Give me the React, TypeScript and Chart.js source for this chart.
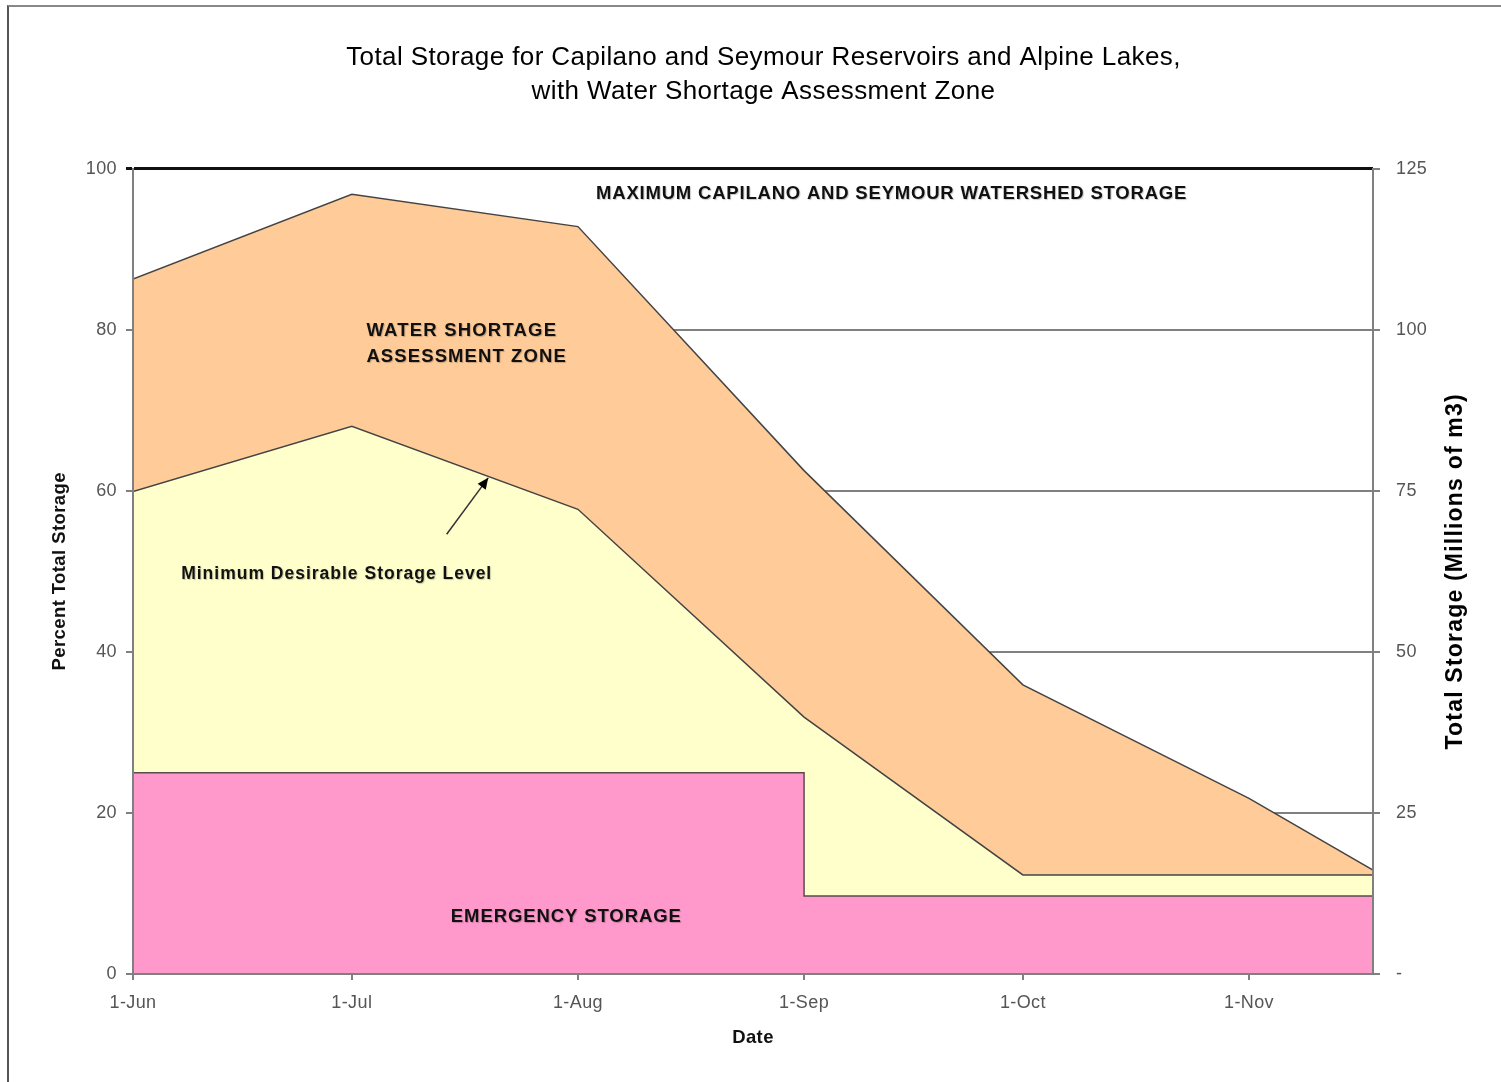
import React, { useEffect, useRef } from "react";
import { Chart, registerables } from "chart.js";

Chart.register(...registerables);

// Days since 1-Jun
const xDays = [0, 30, 61, 92, 122, 153, 170];
const xTickDays = [0, 30, 61, 92, 122, 153];
const xTickLabels = ["1-Jun", "1-Jul", "1-Aug", "1-Sep", "1-Oct", "1-Nov"];

// Upper limit of the water shortage assessment zone (% total storage)
const assessmentTop = [86.3, 96.8, 92.8, 62.5, 35.9, 21.8, 12.9];
// Minimum desirable storage level (% total storage)
const minDesirable = [59.9, 68.0, 57.7, 31.9, 12.3, 12.3, 12.3];
// Emergency storage (stepped)
const emergencyDays = [0, 92, 92, 170];
const emergencyValues = [25, 25, 9.7, 9.7];

const leftTicks = [0, 20, 40, 60, 80, 100];
const rightTicks = [0, 25, 50, 75, 100, 125];

// Annotation labels: [text, day, percent, align, font size, letter spacing]
const annotations: [string, number, number, CanvasTextAlign, number, number][] = [
  ["MAXIMUM CAPILANO AND SEYMOUR WATERSHED STORAGE", 104, 96.9, "center", 18.5, 0.8],
  ["WATER SHORTAGE", 32.0, 79.8, "left", 18.5, 1.2],
  ["ASSESSMENT ZONE", 32.0, 76.6, "left", 18.5, 1.1],
  ["Minimum Desirable Storage Level", 6.6, 49.6, "left", 17.5, 1.0],
  ["EMERGENCY STORAGE", 59.4, 7.1, "center", 18.5, 0.9],
];
// Arrow from tail to head: [day, percent]
const arrowTail = [43.0, 54.6];
const arrowHead = [48.7, 61.6];

const FONT = "'Liberation Sans', Arial, sans-serif";

const spacingPlugin = {
  id: "spacing",
  beforeDraw(chart: any) {
    chart.ctx.letterSpacing = "0.4px";
  },
  afterDraw(chart: any) {
    chart.ctx.letterSpacing = "0px";
  },
};

const overlayPlugin = {
  id: "overlay",
  afterDatasetsDraw(chart: any) {
    const { ctx, scales } = chart;
    const x = scales.x;
    const y = scales.y;
    ctx.save();
    ctx.textBaseline = "middle";
    ctx.shadowColor = "rgba(0,0,0,0.22)";
    ctx.shadowOffsetX = 1;
    ctx.shadowOffsetY = 1;
    ctx.shadowBlur = 1;
    ctx.fillStyle = "#111";
    annotations.forEach(([t, d, p, al, size, sp]) => {
      ctx.font = `bold ${size}px ${FONT}`;
      ctx.letterSpacing = `${sp}px`;
      ctx.textAlign = al;
      ctx.fillText(t, x.getPixelForValue(d), y.getPixelForValue(p));
    });
    ctx.shadowColor = "transparent";
    ctx.letterSpacing = "0px";
    // arrow
    const tx = x.getPixelForValue(arrowTail[0]);
    const ty = y.getPixelForValue(arrowTail[1]);
    const hx = x.getPixelForValue(arrowHead[0]);
    const hy = y.getPixelForValue(arrowHead[1]);
    ctx.strokeStyle = "#333";
    ctx.lineWidth = 1.5;
    ctx.beginPath();
    ctx.moveTo(tx, ty);
    ctx.lineTo(hx, hy);
    ctx.stroke();
    const ang = Math.atan2(hy - ty, hx - tx);
    const L = 11, W = 5;
    ctx.fillStyle = "#000";
    ctx.beginPath();
    ctx.moveTo(hx, hy);
    ctx.lineTo(hx - L * Math.cos(ang) + W * Math.sin(ang), hy - L * Math.sin(ang) - W * Math.cos(ang));
    ctx.lineTo(hx - L * Math.cos(ang) - W * Math.sin(ang), hy - L * Math.sin(ang) + W * Math.cos(ang));
    ctx.closePath();
    ctx.fill();
    // right axis title (reads bottom-to-top)
    const r = scales.y2;
    ctx.save();
    ctx.translate(r.right - 45, (chart.chartArea.top + chart.chartArea.bottom) / 2);
    ctx.rotate(-Math.PI / 2);
    ctx.font = `bold 23px ${FONT}`;
    ctx.letterSpacing = "1.2px";
    ctx.fillStyle = "#000";
    ctx.textAlign = "center";
    ctx.textBaseline = "middle";
    ctx.fillText("Total Storage (Millions of m3)", 0, 0);
    ctx.restore();
    ctx.restore();
  },
};

export default function App() {
  const ref = useRef<HTMLCanvasElement>(null);
  useEffect(() => {
    const canvas = ref.current!;
    const chart = new Chart(canvas, {
      type: "line",
      data: {
        datasets: [
          {
            label: "Emergency Storage",
            data: emergencyDays.map((d, i) => ({ x: d, y: emergencyValues[i] })),
            backgroundColor: "#FF99CC",
            borderColor: "#5a4a50",
            borderWidth: 1.5,
            fill: "origin",
            pointRadius: 0,
          },
          {
            label: "Minimum Desirable Storage Level",
            data: xDays.map((d, i) => ({ x: d, y: minDesirable[i] })),
            backgroundColor: "#FFFFCC",
            borderColor: "#444",
            borderWidth: 1.5,
            fill: "origin",
            pointRadius: 0,
          },
          {
            label: "Water Shortage Assessment Zone",
            data: xDays.map((d, i) => ({ x: d, y: assessmentTop[i] })),
            backgroundColor: "#FFCC99",
            borderColor: "#444",
            borderWidth: 1.5,
            fill: "origin",
            pointRadius: 0,
          },
        ],
      },
      options: {
        responsive: false,
        animation: false,
        events: [],
        layout: { padding: { left: 26, right: 0, top: 0, bottom: 0 } },
        plugins: {
          legend: { display: false },
          tooltip: { enabled: false },
          title: {
            display: true,
            text: [
              "Total Storage for Capilano and Seymour Reservoirs and Alpine Lakes,",
              "with Water Shortage Assessment Zone",
            ],
            color: "#000",
            font: { family: FONT, size: 26, weight: "normal", lineHeight: 1.3 },
            padding: { top: 41, bottom: 60 },
          },
        },
        scales: {
          x: {
            type: "linear",
            min: 0,
            max: 170,
            afterBuildTicks: (s: any) => {
              s.ticks = xTickDays.map((v) => ({ value: v }));
            },
            afterFit: (s: any) => {
              s.height = 108;
            },
            ticks: {
              autoSkip: false,
              maxRotation: 0,
              padding: 12,
              color: "#555",
              font: { family: FONT, size: 18 },
              callback: (v: any) => {
                const i = xTickDays.indexOf(Number(v));
                return i >= 0 ? xTickLabels[i] : "";
              },
            },
            grid: { drawOnChartArea: false, drawTicks: true, tickLength: 6, color: "#808080", lineWidth: 2 },
            border: { display: true, color: "#808080", width: 2, z: 1 },
            title: {
              display: true,
              text: "Date",
              color: "#111",
              font: { family: FONT, size: 18.5, weight: "bold" },
              padding: { top: 0, bottom: 33 },
            },
          },
          y: {
            type: "linear",
            position: "left",
            min: 0,
            max: 100,
            afterBuildTicks: (s: any) => {
              s.ticks = leftTicks.map((v) => ({ value: v }));
            },
            afterFit: (s: any) => {
              s.width = 107;
            },
            ticks: {
              padding: 9,
              color: "#555",
              font: { family: FONT, size: 18 },
            },
            grid: {
              drawTicks: true,
              tickLength: 7,
              color: (c: any) => (c.tick && c.tick.value === 100 ? "#111" : "#808080"),
              lineWidth: (c: any) => (c.tick && c.tick.value === 100 ? 3 : 2),
            },
            border: { display: true, color: "#808080", width: 2, z: 1 },
            title: {
              display: true,
              text: "Percent Total Storage",
              color: "#111",
              font: { family: FONT, size: 18.5, weight: "bold" },
              padding: { top: 22.5, bottom: 0 },
            },
          },
          y2: {
            type: "linear",
            position: "right",
            min: 0,
            max: 125,
            afterBuildTicks: (s: any) => {
              s.ticks = rightTicks.map((v) => ({ value: v }));
            },
            afterFit: (s: any) => {
              s.width = 128;
            },
            ticks: {
              padding: 16,
              color: "#555",
              font: { family: FONT, size: 18 },
              callback: (v: any) => (Number(v) === 0 ? "-" : String(v)),
            },
            grid: { drawOnChartArea: false, drawTicks: true, tickLength: 7, color: "#808080", lineWidth: 2 },
            border: { display: true, color: "#808080", width: 2, z: 1 },
          },
        },
      },
      plugins: [spacingPlugin, overlayPlugin],
    });
    return () => chart.destroy();
  }, []);

  return (
    <div style={{ position: "fixed", left: 0, top: 0, width: 1501, height: 1082, background: "#fff" }}>
      <canvas ref={ref} width={1501} height={1082} style={{ position: "absolute", left: 0, top: 0 }} />
      <div
        style={{
          position: "absolute",
          left: 7,
          top: 5,
          width: 1600,
          height: 1200,
          borderLeft: "2px solid #555",
          borderTop: "2px solid #888",
          pointerEvents: "none",
        }}
      />
    </div>
  );
}
